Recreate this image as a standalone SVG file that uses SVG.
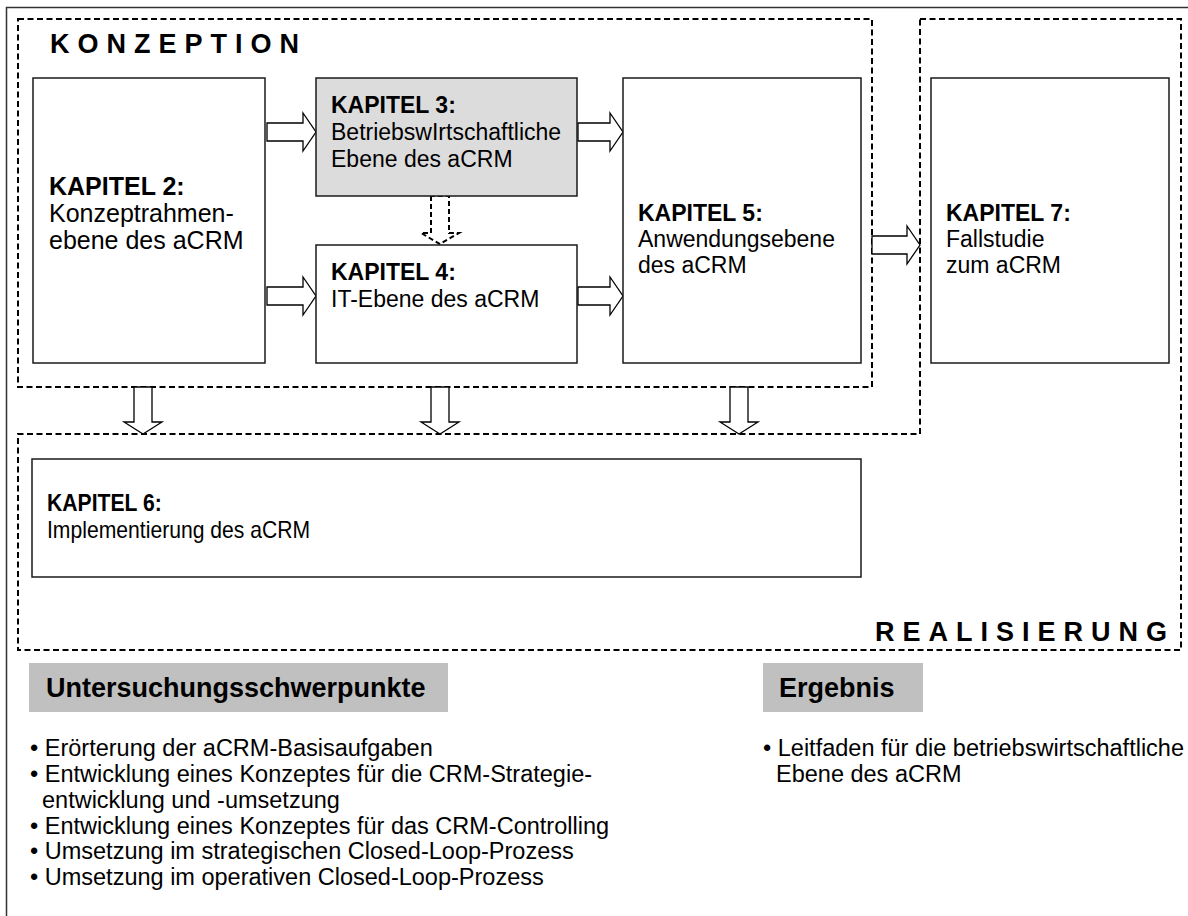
<svg xmlns="http://www.w3.org/2000/svg" width="1188" height="916" viewBox="0 0 1188 916">
<style>
text{font-family:"Liberation Sans",Arial,sans-serif;fill:#000}
.t{font-size:23px;font-weight:bold}
.r{font-size:23px}
.t2{font-size:25px;font-weight:bold}
.r2{font-size:25px}
.b{font-size:23.5px}
.big{font-size:27px;font-weight:bold;letter-spacing:8px}
.h{font-size:27px;font-weight:bold}
.box{fill:#fff;stroke:#1a1a1a;stroke-width:1.5}
.dash{fill:none;stroke:#000;stroke-width:2;stroke-dasharray:6 3.5}
.arr{fill:#fff;stroke:#000;stroke-width:1.3;stroke-linejoin:miter}
.darr{fill:#fff;stroke:#000;stroke-width:2;stroke-dasharray:5 3}
.hb{fill:#c0c0c0}
</style>
<rect width="1188" height="916" fill="#fff"/>
<path d="M6.5,916 V7.5 H1188" fill="none" stroke="#333" stroke-width="1.5"/>
<g id="konzeption">
<rect class="dash" x="18" y="19" width="854" height="368"/>
<text class="big" x="50" y="53">KONZEPTION</text>
</g>
<g id="realisierung">
<path class="dash" d="M920,19 H1181 V650 H18 V434 H920 Z"/>
<text class="big" x="875" y="641">REALISIERUNG</text>
</g>
<g id="connectors">
<path class="arr" d="M267,123 H303 V113 L316,132 L303,151 V141 H267 Z"/>
<path class="arr" d="M267,287 H303 V277 L316,296 L303,315 V305 H267 Z"/>
<path class="arr" d="M578,123 H610 V113 L623,132 L610,151 V141 H578 Z"/>
<path class="arr" d="M578,287 H610 V277 L623,296 L610,315 V305 H578 Z"/>
<path class="arr" d="M872,236 H907 V226 L920,245 L907,264 V254 H872 Z"/>
<path class="darr" d="M431,196 V233 H421 L440,244 L459,233 H449 V196 Z"/>
<path class="arr" d="M134,387 V422 H124 L143,434 L162,422 H152 V387 Z"/>
<path class="arr" d="M431,387 V422 H421 L440,434 L459,422 H449 V387 Z"/>
<path class="arr" d="M730,387 V422 H720 L739,434 L758,422 H748 V387 Z"/>
</g>
<g id="kapitel2">
<rect class="box" x="33" y="78" width="232" height="285"/>
<text class="t2" x="49" y="195">KAPITEL 2:</text>
<text class="r2" x="49" y="222">Konzeptrahmen-</text>
<text class="r2" x="49" y="249">ebene des aCRM</text>
</g>
<g id="kapitel3">
<rect class="box" x="316" y="78" width="261" height="118" style="fill:#dcdcdc"/>
<text class="t" x="331" y="113">KAPITEL 3:</text>
<text class="r" x="331" y="140">BetriebswIrtschaftliche</text>
<text class="r" x="331" y="167">Ebene des aCRM</text>
</g>
<g id="kapitel4">
<rect class="box" x="316" y="245" width="261" height="118"/>
<text class="t" x="331" y="280">KAPITEL 4:</text>
<text class="r" x="331" y="307">IT-Ebene des aCRM</text>
</g>
<g id="kapitel5">
<rect class="box" x="623" y="78" width="238" height="285"/>
<text class="t" x="638" y="221">KAPITEL 5:</text>
<text class="r" x="638" y="247">Anwendungsebene</text>
<text class="r" x="638" y="273">des aCRM</text>
</g>
<g id="kapitel7">
<rect class="box" x="931" y="78" width="238" height="285"/>
<text class="t" x="946" y="221">KAPITEL 7:</text>
<text class="r" x="946" y="247">Fallstudie</text>
<text class="r" x="946" y="273">zum aCRM</text>
</g>
<g id="kapitel6">
<rect class="box" x="32" y="459" width="829" height="118"/>
<text class="t" transform="translate(47,511) scale(0.92,1)">KAPITEL 6:</text>
<text class="r" transform="translate(47,538) scale(0.92,1)">Implementierung des aCRM</text>
</g>
<g id="untersuchungsschwerpunkte">
<rect class="hb" x="29" y="663" width="419" height="49"/>
<text class="h" x="46" y="697">Untersuchungsschwerpunkte</text>
<text class="b" x="30" y="756">• Erörterung der aCRM-Basisaufgaben</text>
<text class="b" x="30" y="782">• Entwicklung eines Konzeptes für die CRM-Strategie-</text>
<text class="b" x="42" y="808">entwicklung und -umsetzung</text>
<text class="b" x="30" y="834">• Entwicklung eines Konzeptes für das CRM-Controlling</text>
<text class="b" x="30" y="859">• Umsetzung im strategischen Closed-Loop-Prozess</text>
<text class="b" x="30" y="885">• Umsetzung im operativen Closed-Loop-Prozess</text>
</g>
<g id="ergebnis">
<rect class="hb" x="763" y="663" width="160" height="49"/>
<text class="h" x="779" y="697">Ergebnis</text>
<text class="b" x="763" y="756">• Leitfaden für die betriebswirtschaftliche</text>
<text class="b" x="776" y="782">Ebene des aCRM</text>
</g>
</svg>
